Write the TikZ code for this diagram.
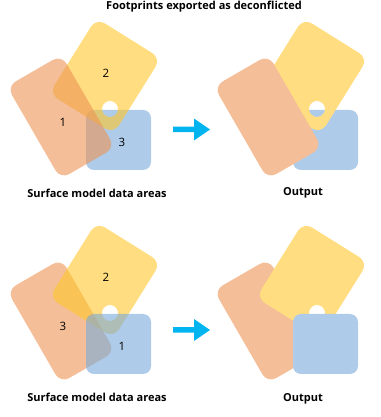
\documentclass[tikz,border=0pt]{standalone}
\usepackage{fontspec}
\setmainfont{Open Sans}
\definecolor{oraO}{RGB}{244,190,152}
\definecolor{yelO}{RGB}{255,221,128}
\definecolor{bluO}{RGB}{174,204,233}
\definecolor{oraL}{RGB}{237,147,83}
\definecolor{yelL}{RGB}{255,198,43}
\definecolor{bluL}{RGB}{120,170,218}
\definecolor{arrowc}{RGB}{0,180,240}
\newcommand\orangeShape[1]{\fill[#1, rounded corners=10pt, shift={(61,300)}, rotate=30] (-31.5,-53.5) rectangle (31.5,53.5);}
\newcommand\yellowShape[1]{\fill[#1, even odd rule, rounded corners=10pt, shift={(105,341)}, rotate=-32] (-38,-44.5) rectangle (38,44.5) (21.7,-25.3) circle (8);}
\newcommand\blueShape[1]{\fill[#1, rounded corners=8pt] (86,247) rectangle (151,307);}
\newcommand\blockArrow{\fill[arrowc] (173,-2.75) -- (194,-2.75) -- (194,-11) -- (210,0) -- (194,11) -- (194,2.75) -- (173,2.75) -- cycle;}
\begin{document}
\begin{tikzpicture}[x=1pt,y=1pt,
  lbl/.style={font=\fontsize{11}{12}\selectfont\bfseries, inner sep=0},
  num/.style={font=\fontsize{11.5}{12}\selectfont, inner sep=0},
  lay/.style={fill opacity=0.6}]
\useasboundingbox (0,0) rectangle (380,417);
% top left: priority 1 orange, 2 yellow, 3 blue
\blueShape{bluL, lay}
\yellowShape{yelL, lay}
\orangeShape{oraL, lay}
\node[num] (t1) at (63,295) {1};
\node[num] (t2) at (106,344) {2};
\node[num] (t3) at (122,275) {3};
% top right output
\begin{scope}[shift={(207,0)}]
\blueShape{bluO}
\yellowShape{yelO}
\orangeShape{oraO}
\end{scope}
\begin{scope}[shift={(0,287.5)}]
\blockArrow
\end{scope}
% bottom left: priority 1 blue, 2 yellow, 3 orange
\begin{scope}[shift={(0,-204)}]
\orangeShape{oraL, lay}
\yellowShape{yelL, lay}
\blueShape{bluL, lay}
\node[num] (b3) at (63,295) {3};
\node[num] (b2) at (106,344) {2};
\node[num] (b1) at (122,275) {1};
\end{scope}
\begin{scope}[shift={(207,-204)}]
\orangeShape{oraO}
\yellowShape{yelO}
\blueShape{bluO}
\end{scope}
\begin{scope}[shift={(0,87)}]
\blockArrow
\end{scope}
\node[lbl] (title) at (204,410) {Footprints exported as deconflicted};
\node[lbl] (src1) at (97,224) {Surface model data areas};
\node[lbl] (out1) at (303,224) {Output};
\node[lbl] (src2) at (97,19.5) {Surface model data areas};
\node[lbl] (out2) at (303,18.5) {Output};
\end{tikzpicture}
\end{document}
